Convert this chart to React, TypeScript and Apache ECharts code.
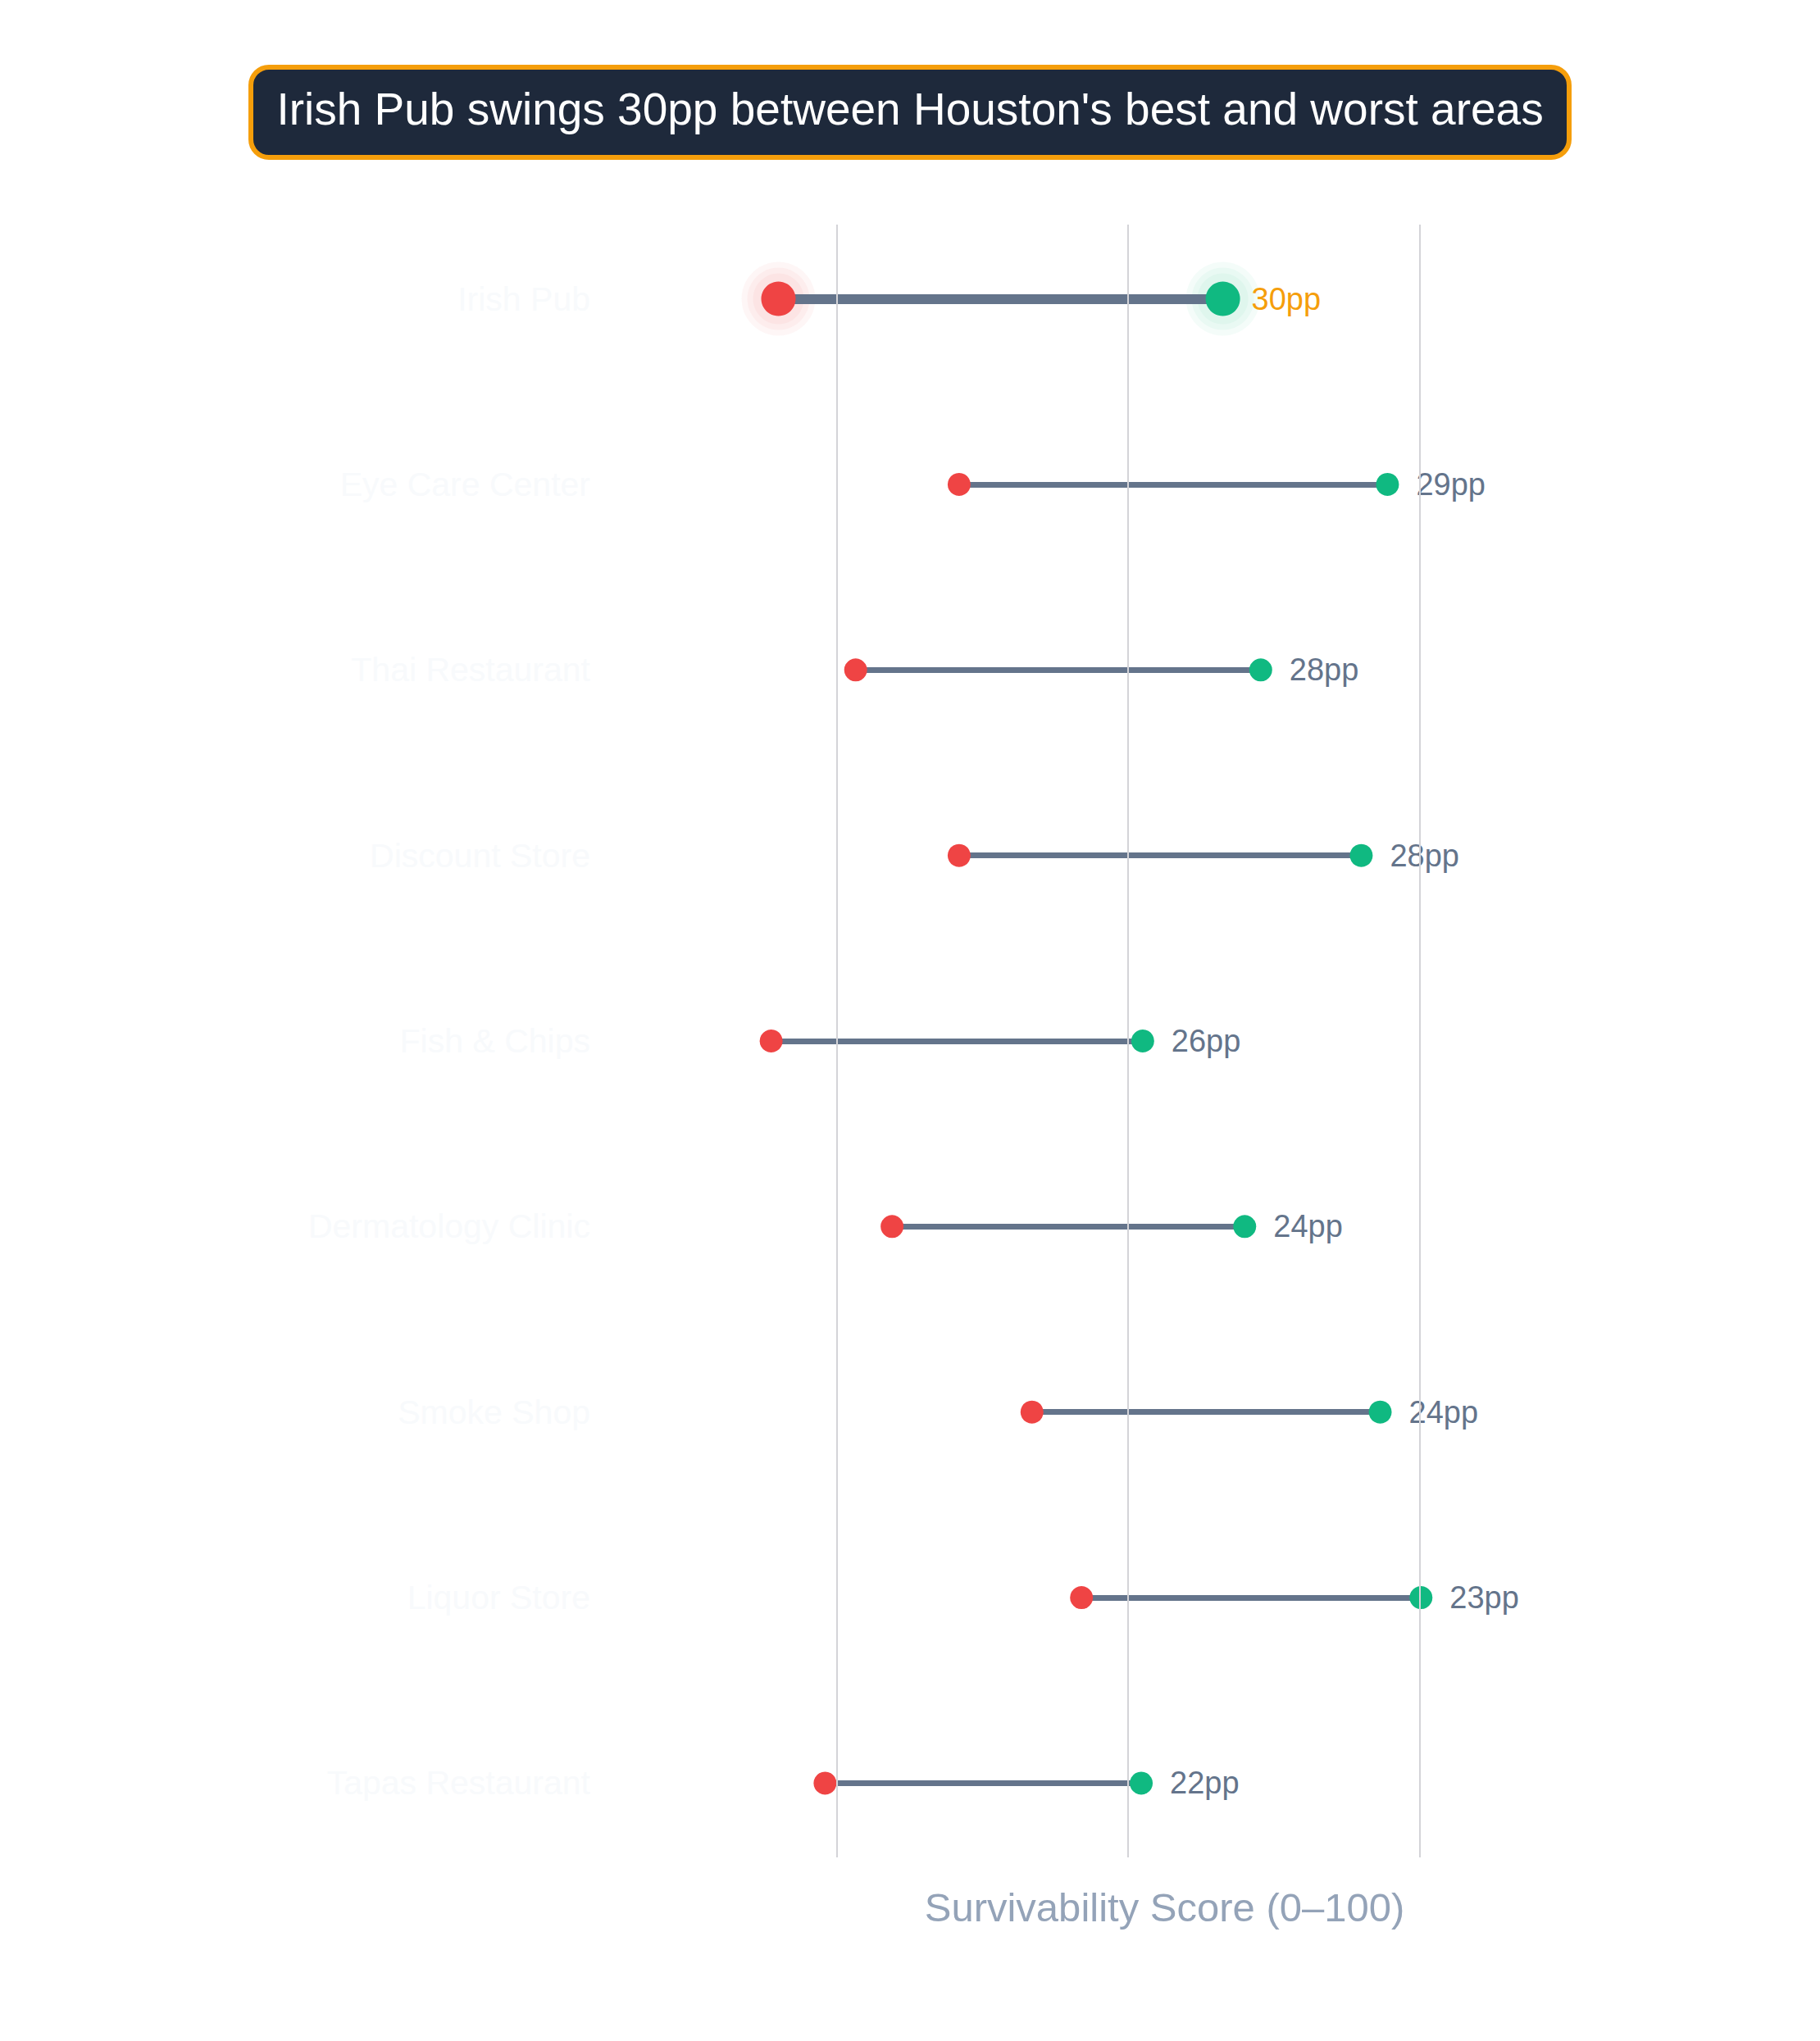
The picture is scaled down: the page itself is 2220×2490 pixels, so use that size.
import React, { useEffect, useRef } from 'react';
import * as echarts from 'echarts';

// dumbbell data: worst vs best area score per business type
const categories = [
  'Irish Pub',
  'Eye Care Center',
  'Thai Restaurant',
  'Discount Store',
  'Fish & Chips',
  'Dermatology Clinic',
  'Smoke Shop',
  'Liquor Store',
  'Tapas Restaurant',
];
const worstScores = [36.0, 48.4, 41.3, 48.4, 35.5, 43.8, 53.4, 56.8, 39.2];
const bestScores = [66.5, 77.8, 69.1, 76.0, 61.0, 68.0, 77.3, 80.1, 60.9];
const gapLabels = [30, 29, 28, 28, 26, 24, 24, 23, 22];
const gridTicks = [40, 60, 80];
const highlightIndex = 0;

const FONT = '"Liberation Sans", Arial, Helvetica, sans-serif';
const RED = '#ef4444';
const GREEN = '#10b981';
const SLATE = '#64748b';
const ORANGE = '#f59e0b';

const App: React.FC = () => {
  const chartRef = useRef<HTMLDivElement | null>(null);

  useEffect(() => {
    document.body.style.margin = '0';
    if (!chartRef.current) return;
    const chart = echarts.init(chartRef.current, undefined, { renderer: 'svg' });

    const rows = categories.map((_, i) => i);
    const isHl = (i: number) => i === highlightIndex;

    // faint rings around the highlighted dots
    const haloSizes = [90, 76, 62];
    const haloData: any[] = [];
    haloSizes.forEach((s) => {
      haloData.push({ value: [worstScores[highlightIndex], highlightIndex], symbolSize: s, itemStyle: { color: 'rgba(239,68,68,0.06)' } });
      haloData.push({ value: [bestScores[highlightIndex], highlightIndex], symbolSize: s, itemStyle: { color: 'rgba(16,185,129,0.06)' } });
    });

    const option: echarts.EChartsOption = {
      animation: false,
      backgroundColor: '#ffffff',
      textStyle: { fontFamily: FONT },
      title: {
        text: "Irish Pub swings 30pp between Houston's best and worst areas",
        left: 'center',
        top: 82,
        padding: [19, 32, 27, 32],
        backgroundColor: '#1e293b',
        borderColor: ORANGE,
        borderWidth: 6,
        borderRadius: 22,
        textStyle: { color: '#ffffff', fontSize: 55, fontWeight: 'normal', fontFamily: FONT, lineHeight: 64 },
      },
      grid: { left: 754, right: 133, top: 274, bottom: 224, containLabel: false },
      xAxis: {
        type: 'value',
        min: 25,
        max: 100,
        axisLabel: { show: false },
        axisLine: { show: false },
        axisTick: { show: false },
        splitLine: { show: false },
        name: 'Survivability Score (0–100)',
        nameLocation: 'middle',
        nameGap: 36,
        nameTextStyle: { color: '#94a3b8', fontSize: 49, fontFamily: FONT },
      },
      yAxis: {
        type: 'value',
        min: -0.4,
        max: 8.4,
        inverse: true,
        axisLine: { show: false },
        axisTick: { show: false },
        splitLine: { show: false },
        axisLabel: {
          customValues: rows,
          formatter: (v: number) => categories[Math.round(v)] ?? '',
          color: '#f8fafc',
          fontSize: 41,
          margin: 34,
          fontFamily: FONT,
        },
      } as any,
      series: [
        {
          type: 'scatter',
          name: 'halo',
          z: 1,
          silent: true,
          data: haloData,
          markLine: {
            silent: true,
            symbol: 'none',
            label: { show: false },
            lineStyle: { color: '#d4d4d8', width: 2, type: 'solid' },
            data: gridTicks.map((v) => ({ xAxis: v })),
          },
        },
        {
          type: 'lines',
          coordinateSystem: 'cartesian2d',
          z: 2,
          silent: true,
          lineStyle: { color: SLATE, opacity: 1 },
          data: rows.map((i) => ({
            coords: [
              [worstScores[i], i],
              [bestScores[i], i],
            ],
            lineStyle: { width: isHl(i) ? 12 : 7, color: SLATE, opacity: 1 },
          })),
        } as any,
        {
          type: 'scatter',
          name: 'Worst area',
          z: 3,
          itemStyle: { color: RED, opacity: 1 },
          data: rows.map((i) => ({ value: [worstScores[i], i], symbolSize: isHl(i) ? 42 : 28 })),
        },
        {
          type: 'scatter',
          name: 'Best area',
          z: 3,
          itemStyle: { color: GREEN, opacity: 1 },
          data: rows.map((i) => ({
            value: [bestScores[i], i],
            symbolSize: isHl(i) ? 42 : 28,
            label: {
              show: true,
              position: 'right',
              distance: isHl(i) ? 14 : 21,
              formatter: `${gapLabels[i]}pp`,
              color: isHl(i) ? ORANGE : SLATE,
              fontSize: 38,
              fontFamily: FONT,
            },
          })),
        },
      ],
    };

    chart.setOption(option);
    return () => {
      chart.dispose();
    };
  }, []);

  return <div ref={chartRef} style={{ width: '2220px', height: '2490px' }} />;
};

export default App;
